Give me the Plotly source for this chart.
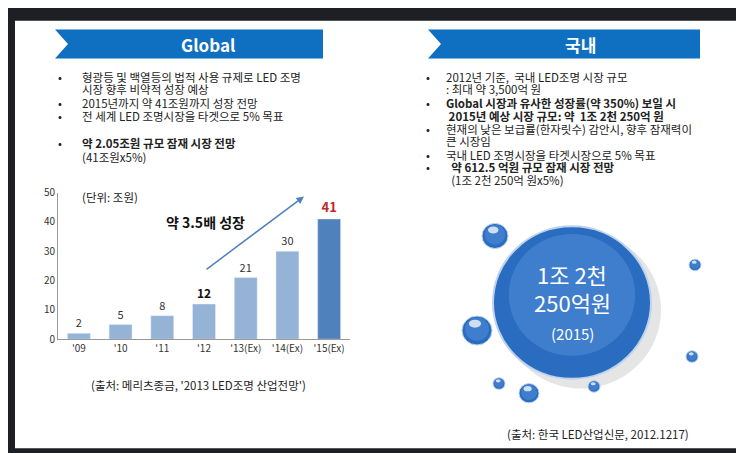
import plotly.graph_objects as go

# Data
years = ["'09", "'10", "'11", "'12", "'13(Ex)", "'14(Ex)", "'15(Ex)"]
market = [2, 5, 8, 12, 21, 30, 41]
bar_labels = ["2", "5", "8", "<b>12</b>", "21", "30", "<b>41</b>"]

W, H = 744, 453
FONT = "Noto Sans CJK KR"


def px(x):
	return x / W


def py(y):
	return 1 - y / H


fig = go.Figure()

colors = ["#95b3d7"] * 6 + ["#4f81bd"]
label_colors = ["#333333"] * 3 + ["#111111", "#333333", "#333333", "#c0262d"]
fig.add_trace(go.Bar(
	x=years, y=market, text=bar_labels, textposition="outside",
	marker=dict(color=colors), width=0.55, cliponaxis=False,
	textfont=dict(size=[11, 11, 11, 12, 11, 11, 13], color=label_colors, family=FONT),
))

shapes = []
# dark frame and white slide
shapes.append(dict(type="rect", xref="paper", yref="paper", x0=px(7), x1=px(737), y0=py(447), y1=py(4),
	fillcolor="white", line=dict(width=0), layer="below"))


def banner(x0, x1):
	y0, y1, n = 13, 43, 13
	path = "M {} {} L {} {} L {} {} L {} {} L {} {} Z".format(
		px(x0), py(y0), px(x1), py(y0), px(x1), py(y1), px(x0), py(y1), px(x0 + n), py((y0 + y1) / 2))
	return dict(type="path", xref="paper", yref="paper", path=path, fillcolor="#0f6fc0", line=dict(width=0))


shapes += [banner(47, 315), banner(420, 692)]


def bubble(cx, cy, r, main=False):
	out = []
	if main:
		out.append(dict(type="circle", xref="paper", yref="paper", x0=px(cx - r + 8), x1=px(cx + r + 10),
			y0=py(cy + r + 10), y1=py(cy - r + 6), fillcolor="rgba(0,0,0,0.10)", line=dict(width=0)))
	out.append(dict(type="circle", xref="paper", yref="paper", x0=px(cx - r), x1=px(cx + r),
		y0=py(cy + r), y1=py(cy - r), fillcolor="#2a6cc0", line=dict(color="#bcd3ee", width=2 if main else 1)))
	rr = r * 0.8
	out.append(dict(type="circle", xref="paper", yref="paper", x0=px(cx - rr), x1=px(cx + rr),
		y0=py(cy + rr - r * 0.1), y1=py(cy - rr - r * 0.1), fillcolor="rgba(80,140,215,0.55)", line=dict(width=0)))
	if not main:
		hr = r * 0.45
		out.append(dict(type="circle", xref="paper", yref="paper", x0=px(cx - hr * 1.2), x1=px(cx + hr * 0.6),
			y0=py(cy - r * 0.2), y1=py(cy - r * 0.75), fillcolor="rgba(255,255,255,0.75)", line=dict(width=0)))
	return out


shapes += bubble(564, 296, 79, main=True)
for cx, cy, r in [(487, 227, 13), (469, 325, 15), (687, 257, 6), (684, 352, 6), (491, 380, 6), (521, 390, 10), (586, 383, 6)]:
	shapes += bubble(cx, cy, r)

ann = []


def text(x, y, s, size=11.5, color="#222222", anchor="left", bold=False):
	if bold:
		s = "<b>" + s + "</b>"
	ann.append(dict(xref="paper", yref="paper", x=px(x), y=py(y), text=s, showarrow=False,
		xanchor=anchor, yanchor="middle", font=dict(size=size, color=color, family=FONT)))


text(200, 28, "Global", 17, "white", "center", True)
text(572, 28, "국내", 17, "white", "center", True)

left = [
	(62, "•", "형광등 및 백열등의 법적 사용 규제로 LED 조명", False),
	(75, "", "시장 향후 비약적 성장 예상", False),
	(89, "•", "2015년까지 약 41조원까지 성장 전망", False),
	(103, "•", "전 세계 LED 조명시장을 타겟으로 5% 목표", False),
	(131, "•", "약 2.05조원 규모 잠재 시장 전망", True),
	(145, "", "(41조원x5%)", False),
]
for y, b, s, bold in left:
	if b:
		text(48, y, b)
	text(72, y, s, bold=bold)

right = [
	(62, "•", "2012년 기준,  국내 LED조명 시장 규모", False),
	(75, "", ": 최대 약 3,500억 원", False),
	(89, "•", "Global 시장과 유사한 성장률(약 350%) 보일 시", True),
	(103, "", " 2015년 예상 시장 규모: 약  1조 2천 250억 원", True),
	(116, "•", "현재의 낮은 보급률(한자릿수) 감안시, 향후 잠재력이", False),
	(129, "", "큰 시장임", False),
	(143, "•", "국내 LED 조명시장을 타겟시장으로 5% 목표", False),
	(156, "•", "  약 612.5 억원 규모 잠재 시장 전망", True),
	(169, "", "  (1조 2천 250억 원x5%)", False),
]
for y, b, s, bold in right:
	if b:
		text(416, y, b)
	text(436, y, s, bold=bold)

text(72, 187, "(단위: 조원)", 11.5)
text(197, 213, "약 3.5배 성장", 14, "#111111", "center", True)
text(190, 381, "(출처: 메리츠종금, '2013 LED조명 산업전망')", 11.5, anchor="center")
text(590, 432, "(출처: 한국 LED산업신문, 2012.1217)", 11.5, anchor="center")
text(564, 266, "1조 2천", 22, "white", "center")
text(564, 295, "250억원", 22, "white", "center")
text(564, 328, "(2015)", 15, "white", "center")

# growth arrow (tail offset in pixels)
ann.append(dict(xref="paper", yref="paper", x=px(296), y=py(186), ax=-99, ay=74, text="", showarrow=True,
	arrowhead=2, arrowsize=1, arrowwidth=1.5, arrowcolor="#4f81bd"))

fig.update_layout(
	width=W, height=H, margin=dict(l=0, r=0, t=0, b=0),
	paper_bgcolor="#1d1f24", plot_bgcolor="white", showlegend=False,
	shapes=shapes, annotations=ann,
	font=dict(family=FONT, color="#333333"),
	xaxis=dict(domain=[px(50), px(342)], showline=True, linecolor="#999999", tickfont=dict(size=10),
		ticks="", fixedrange=True),
	yaxis=dict(domain=[py(334), py(182)], range=[0, 50], dtick=10, showline=True, linecolor="#999999",
		showgrid=False, zeroline=False, tickfont=dict(size=10), ticklen=0),
)

fig.write_html("out.html")
